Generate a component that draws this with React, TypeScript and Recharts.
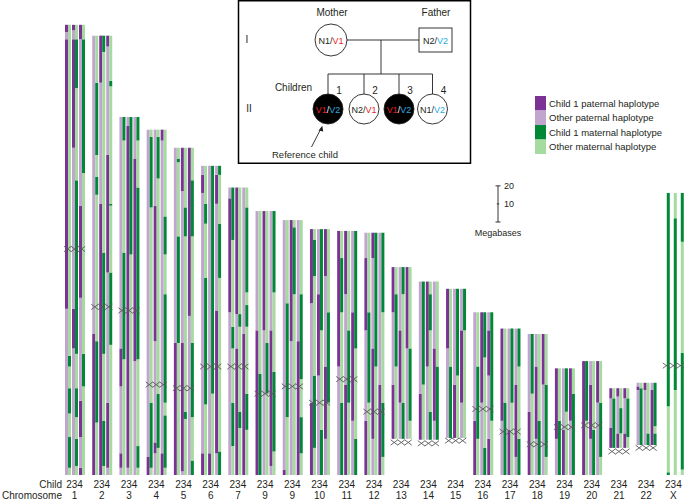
import { ComposedChart, Bar, Cell, XAxis, YAxis, Scatter } from 'recharts'

// chromosome order as printed under the chart (the figure prints "9" twice)
const chromLabels = ['1', '2', '3', '4', '5', '6', '7', '9', '9', '10', '11', '12', '13', '14', '15', '16', '17', '18', '19', '20', '21', '22', 'X']
const chromLengthMb = [249, 243, 198, 191, 181, 171, 159, 146, 141, 136, 135, 134, 115, 107, 103, 90, 81, 78, 59, 63, 48, 51, 156]
const centromereMb = [125, 93, 91, 50, 48, 60, 60, 45, 49, 40, 53, 35, 18, 17.5, 19, 36.5, 24, 17, 26.5, 27.5, 13, 15, 60.5]
// acrocentric p-arms are left unpainted
const paintedFromMb = [0, 0, 0, 0, 0, 0, 0, 0, 0, 0, 0, 0, 20, 19.5, 20.5, 0, 0, 0, 0, 0, 15, 16.6, 0]

// blocks (Mb, from p-ter) where a child carries the same haplotype as child 1
const pat2 = [
  [[92, 241], [245, 249]], [[0, 78]], [[4, 12], [49, 70]], [[0, 10]], [[0, 73]], [[0, 12], [156, 166]],
  [[90, 153]], [[0, 80]], [[0, 3]], [[0, 40], [95, 136]], [[60, 135]], [[0, 30], [80, 120]],
  [[20, 50], [90, 115]], [[19.5, 45]], [[70, 103]], [[0, 30]], [[30, 81]], [[0, 35]], [[20, 59]], [[0, 63]],
  [[15, 26], [42.4, 48]], [[47, 49]], null,
]
const mat2 = [
  [[4, 21], [34, 48], [60, 66]], [[29, 74], [155, 165], [177, 217]], [[64, 123], [185, 198]], [[4, 40], [148, 187]],
  [[73, 132], [173, 175]], [[39, 109], [139, 150]], [[16, 40], [70, 82], [130, 159]], [[0, 56]], [[32, 95]],
  [[15, 55], [110, 130]], [[0, 40], [90, 120]], [[40, 90]], [[60, 100]], [[50, 107]], [[20.5, 60]], [[20, 60]],
  [[0, 40]], [[45, 78]], [[0, 30]], [[30, 63]], [[15, 42.4]], [[16.6, 48]], [[0, 1.5], [38, 156]],
]
const pat3 = [
  [[70, 92], [181, 241], [246, 249]], [[0, 150], [217, 243]], [[4, 193]], [[12, 18], [74, 149]], [[2, 73], [157, 181]],
  [[0, 12]], [[0, 70], [89, 159]], [[80, 146]], [[74, 141]], [[55, 100]], [[0, 50], [100, 135]], [[20, 70], [120, 134]],
  [[40, 80]], [[60, 107]], [[20.5, 50]], [[40, 90]], [[0, 25]], [[20, 60]], [[0, 25]], [[20, 50]],
  [[15, 23], [43.4, 48]], [[47, 51]], null,
]
const mat3 = [
  [[5, 20], [32, 48], [67, 163], [214, 241]], [[5, 30], [67, 123], [234, 243]], [[122, 198]], [[15, 45], [164, 187]],
  [[31, 35], [132, 148]], [[45, 171]], [[26, 35], [82, 89]], [[45, 73]], [[100, 137]], [[0, 25], [80, 136]],
  [[40, 80]], [[60, 134]], [[20, 40], [100, 115]], [[19.5, 35], [80, 100]], [[55, 103]], [[0, 15], [65, 90]],
  [[40, 81]], [[0, 30]], [[35, 59]], [[0, 25]], [[23, 37]], [[16.6, 23]], [[47, 142]],
]
const pat4 = [
  [[0, 4], [21, 41], [98, 149], [241, 249]], [[4, 40], [112, 177], [237, 243]], [[63, 175]], [[0, 12], [185, 191]],
  [[88, 181]], [[12, 91], [150, 166]], [[0, 78]], [[5, 80]], [[0, 74]], [[20, 60], [110, 136]], [[30, 90]], [[0, 50]],
  [[70, 115]], [[30, 70]], [[40, 80]], [[0, 20], [55, 80]], [[10, 50]], [[50, 78]], [[30, 59]], [[40, 63]],
  [[15, 23], [42.4, 48]], [[16.6, 47]], null,
]
const mat4 = [
  [[49, 67], [167, 241]], [[72, 112], [149, 150], [215, 218]], [[4, 16], [64, 159], [185, 198]], [[4, 33], [40, 100], [122, 143]],
  [[0, 8], [32, 73], [132, 163]], [[0, 13], [109, 139], [166, 171]], [[25, 45], [82, 94], [101, 148]], [[13, 57], [101, 146]],
  [[12, 32], [53, 100]], [[40, 90]], [[0, 20], [70, 135]], [[10, 40], [90, 134]], [[30, 70]], [[19.5, 60]], [[80, 103]],
  [[30, 90]], [[0, 20], [60, 81]], [[10, 50]], [[0, 45]], [[10, 40]], [[21, 42.4]], [[16.6, 23], [27, 51]],
  [[3, 67.5], [129, 156]],
]

const legendItems = [
  { label: 'Child 1 paternal haplotype', color: '#7b3294' },
  { label: 'Other paternal haplotype', color: '#c2a5cf' },
  { label: 'Child 1 maternal haplotype', color: '#008837' },
  { label: 'Other maternal haplotype', color: '#a6dba0' },
]

const W = 685
const H = 499
const AXIS_H = 24
const MARGIN = { top: 23, right: -2, bottom: 0, left: 61 }
const Y_MAX = 250
const PLOT_BOTTOM = H - AXIS_H
const PX_PER_MB = (PLOT_BOTTOM - MARGIN.top) / Y_MAX
const FONT = '"Liberation Sans", Arial, Helvetica, sans-serif'
const INK = '#231f20'

const stripes = [
  { key: 'p2', blocks: pat2, dark: legendItems[0].color, light: legendItems[1].color },
  { key: 'm2', blocks: mat2, dark: legendItems[2].color, light: legendItems[3].color },
  { key: 'p3', blocks: pat3, dark: legendItems[0].color, light: legendItems[1].color },
  { key: 'm3', blocks: mat3, dark: legendItems[2].color, light: legendItems[3].color },
  { key: 'p4', blocks: pat4, dark: legendItems[0].color, light: legendItems[1].color },
  { key: 'm4', blocks: mat4, dark: legendItems[2].color, light: legendItems[3].color },
]

function toSegments(blocks: number[][], from: number, to: number) {
  const segs: { len: number; dark: boolean }[] = []
  let pos = from
  for (const [a, b] of blocks) {
    const s = Math.max(a, from)
    const e = Math.min(b, to)
    if (e <= s) continue
    if (s > pos) segs.push({ len: s - pos, dark: false })
    segs.push({ len: e - s, dark: true })
    pos = e
  }
  if (pos < to) segs.push({ len: to - pos, dark: false })
  return segs
}

let maxSegs = 0
const rows = chromLabels.map((label, i) => {
  const row: Record<string, any> = { id: `chr${i}`, label, cen: centromereMb[i], zero: 0 }
  stripes.forEach((st) => {
    const blocks = st.blocks[i]
    if (!blocks) return
    const segs = [{ len: paintedFromMb[i], color: 'none' }].concat(
      toSegments(blocks as number[][], paintedFromMb[i], chromLengthMb[i]).map((s) => ({
        len: s.len,
        color: s.dark ? st.dark : st.light,
      }))
    )
    segs.forEach((s, k) => {
      row[`${st.key}_${k}`] = s.len
      row[`${st.key}_${k}_c`] = s.color
    })
    maxSegs = Math.max(maxSegs, segs.length)
  })
  return row
})

function CentromereMark(props: any) {
  const { cx, cy } = props
  if (cx == null || cy == null) return null
  return (
    <g stroke="#58595b" strokeWidth={0.9} fill="none">
      {[-7, 0, 7].map((dx) => (
        <g key={dx}>
          <line x1={cx + dx - 3.6} y1={cy - 2.7} x2={cx + dx + 3.6} y2={cy + 2.7} />
          <line x1={cx + dx - 3.6} y1={cy + 2.7} x2={cx + dx + 3.6} y2={cy - 2.7} />
        </g>
      ))}
    </g>
  )
}

function ChromTick(props: any) {
  const { x, index } = props
  return (
    <g fontFamily={FONT} fontSize={10} fill={INK}>
      <text x={x} y={PLOT_BOTTOM + 12.5} textAnchor="middle">234</text>
      <text x={x} y={PLOT_BOTTOM + 23.5} textAnchor="middle">{chromLabels[index]}</text>
    </g>
  )
}

function stripeBars(st: (typeof stripes)[number]) {
  const out = []
  for (let k = 0; k < maxSegs; k++) {
    const key = `${st.key}_${k}`
    out.push(
      <Bar key={key} dataKey={key} stackId={st.key} barSize={3} isAnimationActive={false}>
        {rows.map((r, i) => (
          <Cell key={i} fill={r[`${key}_c`] || 'none'} />
        ))}
      </Bar>
    )
  }
  return out
}

function Pedigree() {
  const kids = [
    { cx: 328, n: '1', a: 'V1', b: 'V2', filled: true },
    { cx: 364, n: '2', a: 'N2', b: 'V1', filled: false },
    { cx: 399, n: '3', a: 'V1', b: 'V2', filled: true },
    { cx: 432.5, n: '4', a: 'N1', b: 'V2', filled: false },
  ]
  const red = '#ed1c24'
  const blue = '#27aae1'
  const tone = (t: string, filled: boolean) => (t === 'V1' ? red : t === 'V2' ? blue : filled ? '#fff' : INK)
  return (
    <g fontFamily={FONT} fill={INK}>
      <rect x={238.5} y={0.75} width={232} height={162.5} fill="#fff" stroke="#000" strokeWidth={1.5} />
      <text x={332} y={16} fontSize={10} textAnchor="middle">Mother</text>
      <text x={436} y={16} fontSize={10} textAnchor="middle">Father</text>
      <text x={247} y={43} fontSize={10} textAnchor="middle">I</text>
      <text x={249} y={112} fontSize={10} textAnchor="middle">II</text>
      <g stroke={INK} strokeWidth={0.9} fill="none">
        <line x1={347} y1={40} x2={419} y2={40} />
        <line x1={381} y1={40} x2={381} y2={74} />
        <line x1={328} y1={74} x2={432.5} y2={74} />
        {kids.map((k) => (
          <line key={k.n} x1={k.cx} y1={74} x2={k.cx} y2={94} />
        ))}
        <circle cx={331} cy={40} r={16} fill="#fff" />
        <rect x={419} y={28} width={33} height={24} fill="#fff" />
        <line x1={311.5} y1={147} x2={321.5} y2={127.5} />
      </g>
      <path d="M322.3,125.8 L318.6,130.6 L323.2,131.4 Z" fill={INK} />
      <text x={331} y={43.5} fontSize={9} textAnchor="middle">
        <tspan fill={INK}>N1/</tspan><tspan fill={red}>V1</tspan>
      </text>
      <text x={435.5} y={43.5} fontSize={9} textAnchor="middle">
        <tspan fill={INK}>N2/</tspan><tspan fill={blue}>V2</tspan>
      </text>
      <text x={293.5} y={91} fontSize={10} textAnchor="middle">Children</text>
      {kids.map((k) => (
        <g key={k.n}>
          <circle cx={k.cx} cy={109} r={15} fill={k.filled ? '#000' : '#fff'} stroke={INK} strokeWidth={0.9} />
          <text x={k.cx + 11} y={94} fontSize={10} textAnchor="middle">{k.n}</text>
          <text x={k.cx} y={112.5} fontSize={9} textAnchor="middle">
            <tspan fill={tone(k.a, k.filled)}>{k.a}</tspan>
            <tspan fill={k.filled ? '#fff' : INK}>/</tspan>
            <tspan fill={tone(k.b, k.filled)}>{k.b}</tspan>
          </text>
        </g>
      ))}
      <text x={305} y={157.5} fontSize={9.5} textAnchor="middle">Reference child</text>
    </g>
  )
}

function ScaleBar() {
  const x = 498
  const bottom = 222
  const top = bottom - 20 * PX_PER_MB
  const mid = bottom - 10 * PX_PER_MB
  return (
    <g fontFamily={FONT} fill={INK}>
      <g stroke={INK} strokeWidth={0.9}>
        <line x1={x} y1={top} x2={x} y2={bottom} />
        <line x1={x - 2.5} y1={top} x2={x + 2.5} y2={top} />
        <line x1={x - 2.5} y1={bottom} x2={x + 2.5} y2={bottom} />
        <line x1={x - 1.2} y1={mid} x2={x + 1.2} y2={mid} />
      </g>
      <text x={x + 6} y={top + 3.5} fontSize={9}>20</text>
      <text x={x + 6} y={mid + 3.5} fontSize={9}>10</text>
      <text x={x} y={236} fontSize={9} textAnchor="middle">Megabases</text>
    </g>
  )
}

function HaplotypeLegend() {
  return (
    <g fontFamily={FONT} fill={INK}>
      {legendItems.map((it, i) => (
        <g key={it.label}>
          <rect x={535} y={96 + i * 14.5} width={11} height={14.5} fill={it.color} />
          <text x={549} y={106.5 + i * 14.5} fontSize={9.5}>{it.label}</text>
        </g>
      ))}
    </g>
  )
}

export default function App() {
  return (
    <div style={{ position: 'relative', width: W, height: H, background: '#fff' }}>
      <style>{'body{margin:0}'}</style>
      <ComposedChart width={W} height={H} data={rows} margin={MARGIN} barGap={0} barCategoryGap={0}>
        <XAxis
          dataKey="id"
          height={AXIS_H}
          axisLine={false}
          tickLine={false}
          interval={0}
          tick={<ChromTick />}
        />
        <YAxis hide domain={[0, Y_MAX]} type="number" allowDataOverflow />
        {stripeBars(stripes[0])}
        {stripeBars(stripes[1])}
        <Bar dataKey="zero" stackId="gapA" barSize={1} isAnimationActive={false} />
        {stripeBars(stripes[2])}
        {stripeBars(stripes[3])}
        <Bar dataKey="zero" stackId="gapB" barSize={1} isAnimationActive={false} />
        {stripeBars(stripes[4])}
        {stripeBars(stripes[5])}
        <Scatter dataKey="cen" shape={<CentromereMark />} isAnimationActive={false} />
      </ComposedChart>
      <svg width={W} height={H} style={{ position: 'absolute', left: 0, top: 0, pointerEvents: 'none' }}>
        <Pedigree />
        <ScaleBar />
        <HaplotypeLegend />
        <g fontFamily={FONT} fontSize={10} fill={INK} textAnchor="end">
          <text x={62} y={PLOT_BOTTOM + 12.5}>Child</text>
          <text x={62} y={PLOT_BOTTOM + 23.5}>Chromosome</text>
        </g>
      </svg>
    </div>
  )
}
